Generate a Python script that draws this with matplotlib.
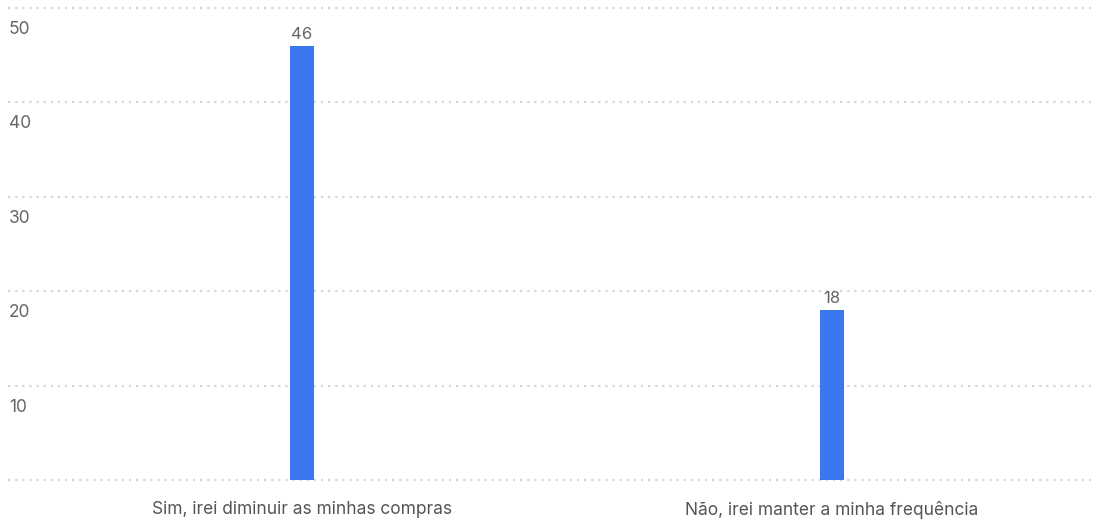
import matplotlib
matplotlib.use('Agg')
from matplotlib import pyplot as plt
from matplotlib import transforms

categories = ['Sim, irei diminuir as minhas compras', 'Não, irei manter a minha frequência']
values = [46, 18]
y_ticks = [10, 20, 30, 40, 50]

BAR_COLOR = '#3b78f0'
GRID_COLOR = '#d6d6d6'
TEXT_COLOR = '#666666'


def main():
    plt.rcParams['font.family'] = ['Inter', 'DejaVu Sans']
    fig = plt.figure(figsize=(10.95, 5.19), dpi=100)
    ax = fig.add_axes([8 / 1095, 39 / 519, 1087 / 1095, 472 / 519])

    x = list(range(len(categories)))
    ax.bar(x, values, width=24 / 530, color=BAR_COLOR, zorder=3)

    ax.set_xlim((8 - 302) / 530, (1095 - 302) / 530)
    ax.set_ylim(0, 50)

    # dotted grid lines, including the baseline
    for v in [0] + y_ticks:
        ax.axhline(v, color=GRID_COLOR, linestyle=(0, (1, 2.2)), linewidth=1.6, zorder=1, clip_on=False)

    # y labels sit just below their grid line, inside the plot
    trans = transforms.blended_transform_factory(ax.transAxes, ax.transData)
    for v in y_ticks:
        ax.annotate(str(v), xy=(0, v), xycoords=trans, xytext=(0.5, -15.5), textcoords='offset points',
                    ha='left', va='center', fontsize=12.5, color=TEXT_COLOR)

    for xi, v in zip(x, values):
        ax.annotate(str(v), xy=(xi, v), xytext=(0, 3), textcoords='offset points',
                    ha='center', va='bottom', fontsize=12, color=TEXT_COLOR)

    ax.set_xticks(x)
    ax.set_xticklabels(categories, fontsize=12.5, color='#555555')
    ax.tick_params(axis='x', length=0, pad=15)
    ax.set_yticks([])
    for s in ax.spines.values():
        s.set_visible(False)

    plt.savefig('out.png', dpi=100)


if __name__ == '__main__':
    main()
